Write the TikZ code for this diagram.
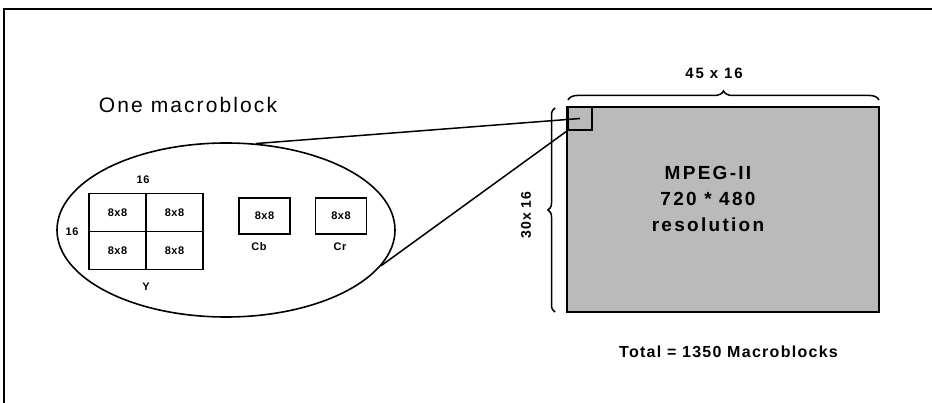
\documentclass[tikz,border=0pt]{standalone}
\usepackage{fontspec}
\setmainfont{Liberation Sans}
\newfontfamily\lstitle[LetterSpace=10]{Liberation Sans}
\newfontfamily\lsmid[LetterSpace=12]{Liberation Sans}
\newfontfamily\lstotal[LetterSpace=8]{Liberation Sans}
\newfontfamily\lssmall[LetterSpace=5]{Liberation Sans}
\usetikzlibrary{shapes.geometric,decorations.pathreplacing}
\definecolor{screen}{RGB}{186,186,186}
\begin{document}
\begin{tikzpicture}[x=1pt,y=-1pt,
  smallfont/.style={font=\lssmall\bfseries\fontsize{11}{12}\selectfont},
  cell/.style={draw,line width=1.3pt,minimum width=57pt,minimum height=38pt,inner sep=0pt,smallfont},
  cbox/.style={draw,line width=1.3pt,minimum width=51pt,minimum height=36pt,inner sep=0pt,smallfont},
  lbl/.style={inner sep=0pt,smallfont},
  link/.style={line width=1.5pt},
  bracestyle/.style={line width=1.5pt,decorate,decoration={brace,amplitude=9pt}}
]
\useasboundingbox (0,0) rectangle (932,403);
% frame (top and left edges)
\coordinate (ftl) at (4,9);
\coordinate (ftr) at (932,9);
\coordinate (fbl) at (4,403);
\draw[line width=1.5pt] (fbl) -- (ftl) -- (ftr);

% title
\node[inner sep=0pt,font=\lstitle\fontsize{21}{24}\selectfont] (title) at (188,105) {One macroblock};

% ellipse
\node[draw,ellipse,line width=1.6pt,minimum width=338pt,minimum height=174pt,inner sep=0pt] (mb) at (226,230) {};

% Y blocks
\node[cell] (y11) at (117.5,212.5) {8x8};
\node[cell] (y12) at (174.5,212.5) {8x8};
\node[cell] (y21) at (117.5,250.5) {8x8};
\node[cell] (y22) at (174.5,250.5) {8x8};
\node[lbl] (ytop) at (143,180) {16};
\node[lbl] (yleft) at (72,232) {16};
\node[lbl] (ylab) at (146,287) {Y};

% Cb Cr
\node[cbox] (cb) at (264.5,216) {8x8};
\node[cbox] (cr) at (341,216) {8x8};
\node[lbl] (cblab) at (259,247) {Cb};
\node[lbl] (crlab) at (340,247) {Cr};

% picture
\node[draw,fill=screen,line width=2pt,minimum width=312pt,minimum height=205pt,inner sep=0pt] (pic) at (723,209.5) {};
\node[draw,fill=screen,line width=1.6pt,minimum width=24pt,minimum height=23pt,inner sep=0pt] (sq) at (580,118.5) {};
\node[inner sep=0pt,align=center,font=\lsmid\bfseries\fontsize{19}{26}\selectfont] (ptext) at (708,199) {MPEG-II\\720 * 480\\resolution};

% connectors
\draw[link] (mb.71) -- (sq.center);
\draw[link] (mb.-13) -- (sq.south west);

% braces
\coordinate (tb1) at (568,100);
\coordinate (tb2) at (879,100);
\draw[bracestyle] (tb1) -- (tb2);
\node[inner sep=0pt,font=\lsmid\bfseries\fontsize{15}{17}\selectfont] (wlab) at (714,73) {45 x 16};
\coordinate (lb1) at (555,312);
\coordinate (lb2) at (555,108);
\draw[bracestyle,decoration={amplitude=7pt}] (lb1) -- (lb2);
\node[inner sep=0pt,rotate=90,font=\lstotal\bfseries\fontsize{14}{16}\selectfont] (hlab) at (526,215) {30x 16};

% total
\node[inner sep=0pt,font=\lstotal\bfseries\fontsize{16}{18}\selectfont] (total) at (728.5,352) {Total = 1350 Macroblocks};
\end{tikzpicture}
\end{document}
